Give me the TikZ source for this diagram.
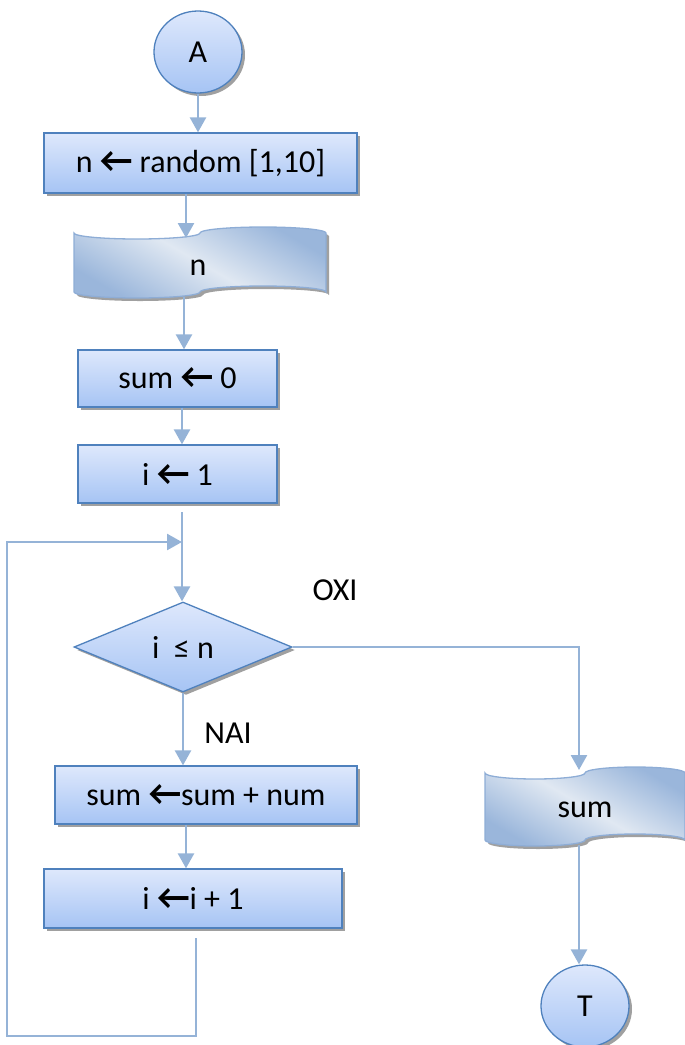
\documentclass[tikz,border=0pt]{standalone}
\usepackage{fontspec}
\setmainfont{Carlito}
\usetikzlibrary{arrows.meta,shapes.geometric,shadows}
\definecolor{boxtop}{HTML}{DEE8FC}
\definecolor{boxbot}{HTML}{A6C4F4}
\definecolor{edgeblue}{HTML}{4F81BD}
\definecolor{connblue}{HTML}{95B3D7}
\definecolor{docdark}{HTML}{9AB6DB}
\definecolor{doclight}{HTML}{E0E8F2}
\definecolor{docedge}{HTML}{8EADD6}
\definecolor{shadowgray}{HTML}{A0A0A0}
% assignment arrow
\newcommand{\lar}{{\bfseries\fontsize{36}{36}\selectfont ←}}
% punched-tape outline: x0, x1, top, bottom, wave depth
\newcommand{\tapepath}[5]{%
  ({#1},{#3+#5})
  arc[start angle=180,end angle=0,x radius={(#2-#1)/4},y radius={#5}]
  arc[start angle=180,end angle=360,x radius={(#2-#1)/4},y radius={#5}]
  -- ({#2},{#4-#5})
  arc[start angle=0,end angle=-180,x radius={(#2-#1)/4},y radius={#5}]
  arc[start angle=0,end angle=180,x radius={(#2-#1)/4},y radius={#5}]
  -- cycle}
\begin{document}
\begin{tikzpicture}[x=1pt,y=-1pt,
  font=\fontsize{32}{38}\selectfont,
  flowshadow/.style={drop shadow={shadow xshift=3pt,shadow yshift=-3pt,fill=shadowgray,opacity=1}},
  shapebase/.style={draw=edgeblue,line width=1.3pt,top color=boxtop,bottom color=boxbot,flowshadow,inner sep=0pt},
  process/.style={shapebase,rectangle},
  terminal/.style={shapebase,ellipse,minimum width=88pt,minimum height=82pt},
  decision/.style={shapebase,diamond,minimum width=218pt,minimum height=90pt},
  tape/.style={draw=docedge,line width=1.3pt,top color=docdark,bottom color=docdark,middle color=doclight,shading angle=-30},
  tapeshadow/.style={fill=shadowgray,shift={(3pt,-3pt)}},
  conn/.style={draw=connblue,line width=2.6pt},
  arr/.style={conn,-{Triangle[length=15pt,width=16pt]}},
  tag/.style={inner sep=0pt}
]
\useasboundingbox (0,0) rectangle (685,1045);

% left column
\node[terminal] (A) at (198,52) {A};
\node[process,minimum width=313pt,minimum height=60pt] (box1) at (200.5,163) {n \lar{} random [1,10]};

\path[tapeshadow] \tapepath{74}{326}{227}{298}{6};
\path[tape] \tapepath{74}{326}{227}{298}{6};
\node[tag] (docN) at (198,268) {n};

\node[process,minimum width=199pt,minimum height=57pt] (sum0) at (177.5,378.5) {sum \lar{} 0};
\node[process,minimum width=199pt,minimum height=58pt] (i1) at (177.5,474) {i \lar{} 1};
\node[decision] (dia) at (183,647) {i\hspace{0.45em}≤ n};
\node[process,minimum width=302pt,minimum height=58pt] (sumnum) at (206,795) {sum \lar{}sum + num};
\node[process,minimum width=298pt,minimum height=59pt] (ip1) at (193,898.5) {i \lar{}i + 1};

% right column
\path[tapeshadow] \tapepath{485}{685}{767}{846}{6};
\path[tape] \tapepath{485}{685}{767}{846}{6};
\node[tag] (docS) at (585,810) {sum};
\node[terminal] (T) at (585,1006) {T};

% branch labels
\node[tag] (oxi) at (335,590) {OXI};
\node[tag] (nai) at (228,733) {NAI};

% connector end points
\coordinate (nIn) at (186,238);
\coordinate (nOut) at (184,297);
\coordinate (spine) at (182,512);
\coordinate (join) at (182,542);
\coordinate (loopTop) at (196,938);
\coordinate (loopCorner) at (7,1036);
\coordinate (sIn) at (579,770);
\coordinate (sOut) at (579,845);

% connectors
\draw[arr] (A.south) -- (A.south |- box1.north);
\draw[arr] (box1.south -| nIn) -- (nIn);
\draw[arr] (nOut) -- (sum0.north -| nOut);
\draw[arr] (sum0.south -| spine) -- (i1.north -| spine);
\draw[arr] (spine) -- (dia.north -| spine);
\draw[arr] (loopTop) |- (loopCorner) |- (join);
\draw[arr] (dia.south) -- (sumnum.north -| dia.south);
\draw[arr] ([xshift=-20pt]sumnum.south) -- ([xshift=-20pt]sumnum.south |- ip1.north);
\draw[arr] (dia.east) -| (sIn);
\draw[arr] (sOut) -- (T.north -| sOut);
\end{tikzpicture}
\end{document}
